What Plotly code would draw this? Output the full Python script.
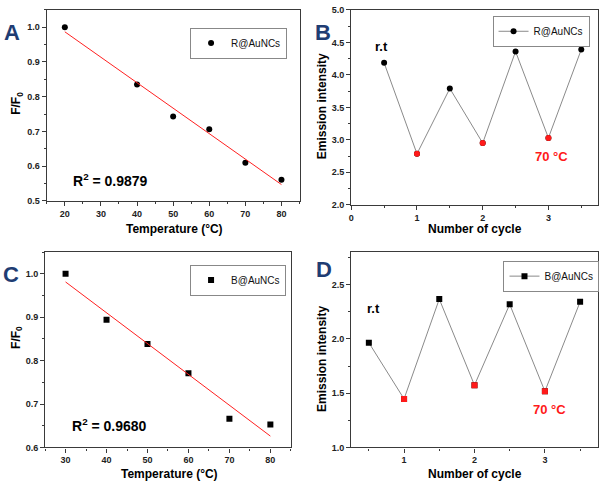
import numpy as np
import plotly.graph_objects as go

# ---- data ----
tempA = [20, 40, 50, 60, 70, 80]
ratioA = [1.000, 0.835, 0.743, 0.706, 0.610, 0.561]
tempC = [30, 40, 50, 60, 70, 80]
ratioC = [1.000, 0.894, 0.838, 0.771, 0.666, 0.653]
cycles = [0.5, 1, 1.5, 2, 2.5, 3, 3.5]
emisB = [4.185, 2.785, 3.79, 2.95, 4.36, 3.03, 4.39]
emisD = [1.965, 1.447, 2.367, 1.574, 2.319, 1.517, 2.342]
hot_idx = [1, 3, 5]
r2A = "0.9879"
r2C = "0.9680"

FONT = "Liberation Sans, Arial, sans-serif"
AX = "#3a3a3a"
fig = go.Figure()

def fit(x, y):
    p = np.polyfit(x, y, 1)
    xs = np.array([min(x), max(x)])
    return xs, np.polyval(p, xs)

# A
fig.add_trace(go.Scatter(x=tempA, y=ratioA, mode="markers", name="R@AuNCs",
                         marker=dict(color="black", size=6, symbol="circle"),
                         xaxis="x", yaxis="y", legend="legend"))
fx, fy = fit(tempA, ratioA)
fig.add_trace(go.Scatter(x=fx, y=fy, mode="lines", line=dict(color="#ff2020", width=1),
                         showlegend=False, xaxis="x", yaxis="y"))
# B
fig.add_trace(go.Scatter(x=cycles, y=emisB, mode="lines+markers", name="R@AuNCs",
                         line=dict(color="#8a8a8a", width=1),
                         marker=dict(color="black", size=6, symbol="circle"),
                         xaxis="x2", yaxis="y2", legend="legend2"))
fig.add_trace(go.Scatter(x=[cycles[i] for i in hot_idx], y=[emisB[i] for i in hot_idx],
                         mode="markers", marker=dict(color="#ff1a1a", size=6),
                         showlegend=False, xaxis="x2", yaxis="y2"))
# C
fig.add_trace(go.Scatter(x=tempC, y=ratioC, mode="markers", name="B@AuNCs",
                         marker=dict(color="black", size=6, symbol="square"),
                         xaxis="x3", yaxis="y3", legend="legend3"))
fx, fy = fit(tempC, ratioC)
fig.add_trace(go.Scatter(x=fx, y=fy, mode="lines", line=dict(color="#ff2020", width=1),
                         showlegend=False, xaxis="x3", yaxis="y3"))
# D
fig.add_trace(go.Scatter(x=cycles, y=emisD, mode="lines+markers", name="B@AuNCs",
                         line=dict(color="#8a8a8a", width=1),
                         marker=dict(color="black", size=6, symbol="square"),
                         xaxis="x4", yaxis="y4", legend="legend4"))
fig.add_trace(go.Scatter(x=[cycles[i] for i in hot_idx], y=[emisD[i] for i in hot_idx],
                         mode="markers", marker=dict(color="#ff1a1a", size=6, symbol="square"),
                         showlegend=False, xaxis="x4", yaxis="y4"))

def axis(domain, rng, dtick, mdtick, anchor):
    return dict(domain=domain, range=rng, dtick=dtick, showgrid=False, zeroline=False,
                showline=True, linecolor=AX, linewidth=1.2, mirror=True,
                ticks="outside", ticklen=4, tickwidth=1, tickcolor=AX,
                tickfont=dict(family=FONT, size=9, color="#222", weight="bold"),
                anchor=anchor,
                minor=dict(ticks="outside", ticklen=2, tickcolor=AX, dtick=mdtick))

xA = [44/600, 298/600]; yA = [1-200/486, 1-5/486]
xB = [350/600, 597.7/600]; yB = [1-204/486, 1-5/486]
xC = [42.3/600, 289.3/600]; yC = [1-451.7/486, 1-252.3/486]
xD = [350/600, 597.7/600]; yD = yC

fig.update_layout(
    width=600, height=486, margin=dict(l=0, r=0, t=0, b=0),
    paper_bgcolor="white", plot_bgcolor="white",
    xaxis=axis(xA, [15, 85], 10, 5, "y"),
    yaxis=axis(yA, [0.5, 1.05], 0.1, 0.05, "x"),
    xaxis2=axis(xB, [0, 3.75], 1, 0.5, "y2"),
    yaxis2=axis(yB, [2.0, 5.0], 0.5, 0.25, "x2"),
    xaxis3=axis(xC, [25, 85], 10, 5, "y3"),
    yaxis3=axis(yC, [0.6, 1.05], 0.1, 0.05, "x3"),
    xaxis4=axis(xD, [0.25, 3.75], 1, 0.5, "y4"),
    yaxis4=axis(yD, [1.0, 2.8], 0.5, 0.25, "x4"),
)
fig.update_yaxes(tickformat=".1f")
fig.layout.xaxis4.tickvals = [1, 2, 3]
fig.layout.xaxis4.minor.tickvals = [0.5, 1.5, 2.5, 3.5]

leg = dict(bgcolor="white", bordercolor="#888", borderwidth=1,
           font=dict(family=FONT, size=10, color="#111"),
           xanchor="left", yanchor="top", itemwidth=30, tracegroupgap=0)
fig.update_layout(
    legend=dict(leg, x=188/600, y=1-23/486),
    legend2=dict(leg, x=492/600, y=1-11/486),
    legend3=dict(leg, x=188/600, y=1-265/486),
    legend4=dict(leg, x=503/600, y=1-261/486),
)

ann = []
def pa(text, x, y, size, color="black", angle=0, xanchor="center"):
    ann.append(dict(text=text, x=x/600, y=1-y/486, xref="paper", yref="paper",
                    showarrow=False, textangle=angle, xanchor=xanchor, yanchor="middle",
                    font=dict(family=FONT, size=size, color=color, weight="bold")))

# panel letters
for t, x, y in [("A", 9, 28), ("B", 322, 28), ("C", 8, 275), ("D", 323, 270)]:
    pa(t, x, y, 22, color="#1f3d73")
# axis titles
pa("Temperature (°C)", 172, 229, 12)
pa("Number of cycle", 474, 229, 12)
pa("Temperature (°C)", 167, 479, 12)
pa("Number of cycle", 474, 479, 12)
pa("F/F<sub>0</sub>", 14, 100, 12, angle=-90)
pa("Emission intensity", 320, 103, 12, angle=-90)
pa("F/F<sub>0</sub>", 14, 339, 12, angle=-90)
pa("Emission intensity", 320, 361, 12, angle=-90)

def da(text, x, y, xr, yr, size, color="black", xanchor="center"):
    ann.append(dict(text=text, x=x, y=y, xref=xr, yref=yr, showarrow=False,
                    xanchor=xanchor, yanchor="middle",
                    font=dict(family=FONT, size=size, color=color, weight="bold")))

da("R<sup>2</sup> = " + r2A, 21.6, 0.559, "x", "y", 14, xanchor="left")
da("R<sup>2</sup> = " + r2C, 31.2, 0.651, "x3", "y3", 14, xanchor="left")
da("r.t", 0.455, 4.43, "x2", "y2", 13)
da("70 °C", 3.05, 2.75, "x2", "y2", 13, color="#ff1a1a")
da("r.t", 0.56, 2.28, "x4", "y4", 13)
da("70 °C", 3.06, 1.35, "x4", "y4", 13, color="#ff1a1a")

fig.update_layout(annotations=ann)
fig.write_html("out.html")
